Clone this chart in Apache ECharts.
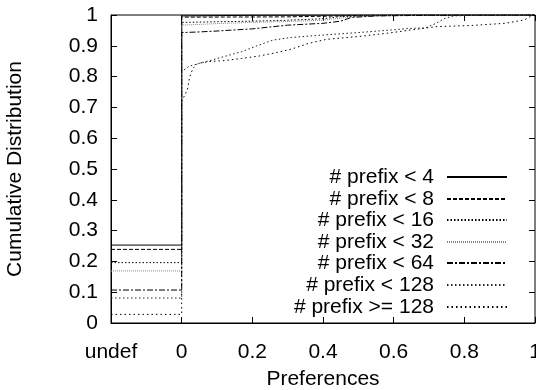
<!DOCTYPE html>
<html>
<head>
<meta charset="utf-8">
<script src="https://cdn.jsdelivr.net/npm/echarts@6/dist/echarts.min.js"></script>
<style>html,body{margin:0;padding:0;background:#fff}#c{width:536px;height:390px}</style>
</head>
<body>
<div id="c"></div>
<script>
const seriesNames = ['# prefix < 4', '# prefix < 8', '# prefix < 16', '# prefix < 32', '# prefix < 64', '# prefix < 128', '# prefix >= 128'];
const xTickLabels = ['undef', '0', '0.2', '0.4', '0.6', '0.8', '1'];
const yTickValues = [0, 0.1, 0.2, 0.3, 0.4, 0.5, 0.6, 0.7, 0.8, 0.9, 1];
// share of prefixes with undefined preference (drawn in the "undef" column)
const undefShare = [0.253, 0.239, 0.196, 0.169, 0.107, 0.081, 0.028];
// CDF points [preference, cumulative] for x >= 0
const cdf4 = [[0, 0.997], [0.2, 0.999], [0.5, 1], [1, 1]];
const cdf8 = [[0, 0.993], [0.3, 0.994], [0.45, 0.997], [0.6, 1], [1, 1]];
const cdf16 = [[0, 0.976], [0.1, 0.978], [0.2, 0.980], [0.3, 0.983], [0.4, 0.988], [0.45, 0.995], [0.55, 0.998], [0.7, 1], [1, 1]];
const cdf32 = [[0, 0.967], [0.1, 0.972], [0.2, 0.976], [0.3, 0.979], [0.4, 0.983], [0.45, 0.99], [0.5, 0.996], [0.6, 0.998], [0.75, 1], [1, 1]];
const cdf64 = [[0, 0.943], [0.05, 0.945], [0.1, 0.948], [0.2, 0.955], [0.3, 0.967], [0.4, 0.973], [0.45, 0.98], [0.48, 0.992], [0.55, 0.997], [0.7, 0.999], [1, 1]];
const cdf128 = [[0, 0.816], [0.02, 0.833], [0.05, 0.843], [0.08, 0.852], [0.12, 0.865], [0.17, 0.881], [0.22, 0.903], [0.26, 0.919], [0.31, 0.927], [0.4, 0.935], [0.5, 0.943], [0.59, 0.951], [0.64, 0.956], [0.69, 0.958], [0.72, 0.973], [0.745, 0.989], [0.77, 0.997], [0.85, 1], [1, 1]];
const cdf128p = [[0, 0.719], [0.016, 0.757], [0.023, 0.80], [0.032, 0.827], [0.046, 0.843], [0.08, 0.849], [0.12, 0.852], [0.17, 0.859], [0.22, 0.867], [0.26, 0.876], [0.31, 0.889], [0.36, 0.908], [0.41, 0.921], [0.5, 0.930], [0.59, 0.942], [0.64, 0.950], [0.72, 0.962], [0.82, 0.966], [0.915, 0.973], [0.97, 0.984], [0.99, 0.997], [1, 1]];
const cdfs = [cdf4, cdf8, cdf16, cdf32, cdf64, cdf128, cdf128p];

const styles = [
  {color: '#000', type: 'solid', width: 1},
  {color: '#000', type: [4, 2], width: 1},
  {color: '#000', type: [1.5, 2], width: 1},
  {color: '#888', type: [1, 1], width: 1},
  {color: '#000', type: [6, 2, 2, 2], width: 1},
  {color: '#222', type: [1.5, 2.5], width: 1},
  {color: '#000', type: [1.5, 3], width: 1}
];
const legendCenters = [177, 199, 220, 242, 263, 285, 307];
const UNDEF_X = -0.2;
const FONT = '"Liberation Sans", Arial, Helvetica, sans-serif';
const FS = 21;

const series = seriesNames.map((name, i) => ({
  name: name,
  type: 'line',
  symbol: 'none',
  showSymbol: false,
  animation: false,
  color: styles[i].color,
  lineStyle: styles[i],
  data: [[UNDEF_X, undefShare[i]], [0, undefShare[i]]].concat(cdfs[i])
}));

const legends = seriesNames.map((name, i) => ({
  orient: 'horizontal', right: 28, top: legendCenters[i] - 11, align: 'right',
  itemWidth: 60, itemHeight: 22, padding: 0,
  itemStyle: {opacity: 0},
  textStyle: {fontFamily: FONT, fontSize: FS, lineHeight: 22, color: '#000', padding: [0, 8, 0, 0]},
  data: [name]
}));

const fmtX = v => {
  const r = Math.round(v * 10) / 10;
  const idx = Math.round((r - UNDEF_X) / 0.2);
  return xTickLabels[idx] !== undefined ? xTickLabels[idx] : '';
};
const fmtY = v => {
  const r = Math.round(v * 10) / 10;
  return yTickValues.indexOf(r) >= 0 ? String(r) : '';
};

const tick = {show: true, inside: true, length: 6, lineStyle: {color: '#000', width: 1}};
const chart = echarts.init(document.getElementById('c'), null, {renderer: 'canvas'});
chart.setOption({
  animation: false,
  backgroundColor: '#fff',
  grid: {left: 111, right: 1, top: 15, bottom: 67, outerBoundsMode: 'none', containLabel: false,
         show: true, borderColor: '#000', borderWidth: 1, backgroundColor: 'transparent'},
  legend: legends,
  xAxis: [
    {type: 'value', min: -0.2, max: 1, interval: 0.2, position: 'bottom',
     name: 'Preferences', nameLocation: 'middle', nameGap: 46,
     nameTextStyle: {fontFamily: FONT, fontSize: FS, color: '#000'},
     axisLine: {show: true, onZero: false, lineStyle: {color: '#000', width: 1}},
     axisTick: tick,
     axisLabel: {formatter: fmtX, margin: 19, fontFamily: FONT, fontSize: FS, color: '#000'},
     splitLine: {show: false}},
    {type: 'value', min: -0.2, max: 1, interval: 0.2, position: 'top',
     axisLine: {show: false, onZero: false}, axisTick: tick,
     axisLabel: {show: false}, splitLine: {show: false}}
  ],
  yAxis: [
    {type: 'value', min: 0, max: 1, interval: 0.1, position: 'left',
     name: 'Cumulative Distribution', nameLocation: 'middle', nameGap: 85,
     nameTextStyle: {fontFamily: FONT, fontSize: FS, color: '#000'},
     axisLine: {show: true, onZero: false, lineStyle: {color: '#000', width: 1}},
     axisTick: tick,
     axisLabel: {formatter: fmtY, margin: 13, fontFamily: FONT, fontSize: FS, color: '#000'},
     splitLine: {show: false}},
    {type: 'value', min: 0, max: 1, interval: 0.1, position: 'right',
     axisLine: {show: false, onZero: false}, axisTick: tick,
     axisLabel: {show: false}, splitLine: {show: false}}
  ],
  series: series
});
</script>
</body>
</html>
